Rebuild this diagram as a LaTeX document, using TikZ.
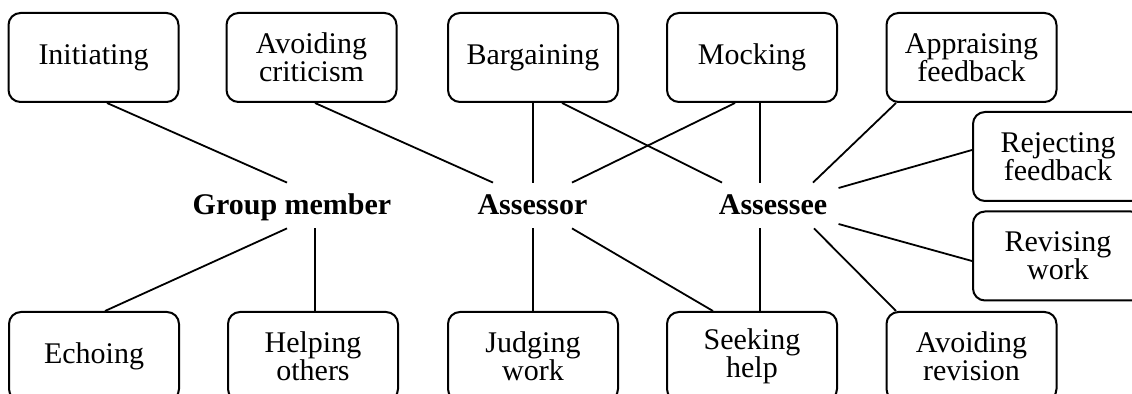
\documentclass[tikz,border=0pt]{standalone}
\usepackage{fontspec}
\setmainfont{Liberation Serif}

\begin{document}
\begin{tikzpicture}[x=0.5pt, y=-0.5pt,
  act/.style={draw, line width=1pt, rounded corners=6pt, minimum width=85pt,
    minimum height=44.5pt, inner sep=0pt, align=center,
    font=\fontsize{15}{13.8}\selectfont},
  role/.style={anchor=base, inner xsep=5.5pt, inner ysep=0pt, text height=16pt,
    text depth=6.5pt, font=\fontsize{15}{18}\selectfont\bfseries},
  link/.style={line width=0.9pt}]
  \useasboundingbox (0,0) rectangle (1132,394);
  \clip (0,0) rectangle (1132,394);

  \node[act] (init) at (93.5,57.5) {Initiating};
  \node[act] (avcrit) at (311.5,57.5) {Avoiding\\criticism};
  \node[act] (barg) at (533,57.5) {Bargaining};
  \node[act] (mock) at (752,57.5) {Mocking};
  \node[act] (appr) at (971.5,57.5) {Appraising\\feedback};
  \node[act] (rej) at (1058,156.5) {Rejecting\\feedback};
  \node[act] (rev) at (1058,256) {Revising\\work};
  \node[act] (echo) at (94,356.5) {Echoing};
  \node[act] (help) at (313,356.5) {Helping\\others};
  \node[act] (judge) at (533,356.5) {Judging\\work};
  \node[act] (seek) at (752,356.5) {Seeking\\help};
  \node[act] (avrev) at (971.5,356.5) {Avoiding\\revision};

  \node[role] (gm) at (292,215) {Group member};
  \node[role] (asr) at (532.5,215) {Assessor};
  \node[role] (ase) at (773,215) {Assessee};

  \path[link]
    ([xshift=6.75pt]init.south) edge ([xshift=-2.5pt]gm.north)
    ([xshift=1.75pt]avcrit.south) edge ([xshift=-19.75pt]asr.north)
    (barg.south) edge (barg.south |- asr.north)
    ([xshift=14.5pt]barg.south) edge ([xshift=-25.5pt]ase.north)
    ([xshift=-8.5pt]mock.south) edge ([xshift=19.75pt]asr.north)
    ([xshift=4pt]mock.south) edge ([xshift=4pt]mock.south |- ase.north)
    ([xshift=-37.75pt]appr.south) edge ([xshift=20pt]ase.north)
    ([yshift=3.25pt]rej.west) edge ([yshift=8.75pt]ase.east)
    ([yshift=-2.5pt]rev.west) edge ([yshift=-9.25pt]ase.east)
    ([xshift=-37.75pt]avrev.north) edge ([xshift=20.5pt]ase.south)
    ([xshift=4pt]seek.north) edge ([xshift=4pt]seek.north |- ase.south)
    ([xshift=-19.5pt]seek.north) edge ([xshift=19.75pt]asr.south)
    (judge.north) edge (judge.north |- asr.south)
    ([xshift=1pt]help.north) edge ([xshift=1pt]help.north |- gm.south)
    ([xshift=5.5pt]echo.north) edge ([xshift=-2.5pt]gm.south);
\end{tikzpicture}
\end{document}
